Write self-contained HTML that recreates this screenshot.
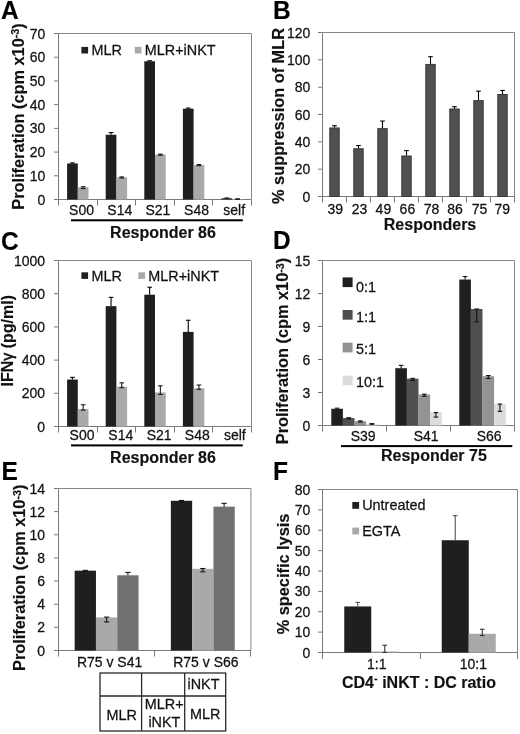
<!DOCTYPE html><html><head><meta charset="utf-8"><style>html,body{margin:0;padding:0;background:#fff;overflow:hidden;}svg{display:block;will-change:transform;}text{font-family:"Liberation Sans",sans-serif;stroke:#111;stroke-width:0.25px;}text[font-weight=bold]{stroke-width:0.15px;}</style></head><body>
<svg width="520" height="734" viewBox="0 0 520 734">
<rect width="520" height="734" fill="#fff"/>
<text transform="translate(1.00,18.70) scale(1,1.06)" font-size="24.5" text-anchor="start" font-weight="bold" fill="#000">A</text>
<line x1="58.50" y1="33.50" x2="251.50" y2="33.50" stroke="#858585" stroke-width="1"/>
<line x1="251.50" y1="33.50" x2="251.50" y2="199.50" stroke="#858585" stroke-width="1"/>
<line x1="58.50" y1="33.50" x2="58.50" y2="205.50" stroke="#7a7a7a" stroke-width="1"/>
<line x1="54.00" y1="199.50" x2="58.50" y2="199.50" stroke="#7a7a7a" stroke-width="1"/>
<text transform="translate(45.30,204.50) scale(1,1.07)" font-size="14" text-anchor="end" fill="#111111">0</text>
<line x1="54.00" y1="175.79" x2="58.50" y2="175.79" stroke="#7a7a7a" stroke-width="1"/>
<text transform="translate(45.30,180.79) scale(1,1.07)" font-size="14" text-anchor="end" fill="#111111">10</text>
<line x1="54.00" y1="152.07" x2="58.50" y2="152.07" stroke="#7a7a7a" stroke-width="1"/>
<text transform="translate(45.30,157.07) scale(1,1.07)" font-size="14" text-anchor="end" fill="#111111">20</text>
<line x1="54.00" y1="128.36" x2="58.50" y2="128.36" stroke="#7a7a7a" stroke-width="1"/>
<text transform="translate(45.30,133.36) scale(1,1.07)" font-size="14" text-anchor="end" fill="#111111">30</text>
<line x1="54.00" y1="104.64" x2="58.50" y2="104.64" stroke="#7a7a7a" stroke-width="1"/>
<text transform="translate(45.30,109.64) scale(1,1.07)" font-size="14" text-anchor="end" fill="#111111">40</text>
<line x1="54.00" y1="80.93" x2="58.50" y2="80.93" stroke="#7a7a7a" stroke-width="1"/>
<text transform="translate(45.30,85.93) scale(1,1.07)" font-size="14" text-anchor="end" fill="#111111">50</text>
<line x1="54.00" y1="57.21" x2="58.50" y2="57.21" stroke="#7a7a7a" stroke-width="1"/>
<text transform="translate(45.30,62.21) scale(1,1.07)" font-size="14" text-anchor="end" fill="#111111">60</text>
<line x1="54.00" y1="33.50" x2="58.50" y2="33.50" stroke="#7a7a7a" stroke-width="1"/>
<text transform="translate(45.30,38.50) scale(1,1.07)" font-size="14" text-anchor="end" fill="#111111">70</text>
<line x1="54.00" y1="199.50" x2="251.50" y2="199.50" stroke="#7a7a7a" stroke-width="1"/>
<line x1="97.50" y1="199.50" x2="97.50" y2="205.50" stroke="#7a7a7a" stroke-width="1"/>
<line x1="135.50" y1="199.50" x2="135.50" y2="205.50" stroke="#7a7a7a" stroke-width="1"/>
<line x1="174.50" y1="199.50" x2="174.50" y2="205.50" stroke="#7a7a7a" stroke-width="1"/>
<line x1="212.50" y1="199.50" x2="212.50" y2="205.50" stroke="#7a7a7a" stroke-width="1"/>
<line x1="251.50" y1="199.50" x2="251.50" y2="205.50" stroke="#7a7a7a" stroke-width="1"/>
<rect x="67.10" y="163.45" width="10.70" height="36.05" fill="#1f1f1f"/>
<line x1="72.45" y1="162.85" x2="72.45" y2="163.45" stroke="#000" stroke-width="1.1"/>
<line x1="70.15" y1="162.85" x2="74.75" y2="162.85" stroke="#000" stroke-width="1.1"/>
<rect x="77.80" y="187.17" width="10.70" height="12.33" fill="#a9a9a9"/>
<line x1="83.15" y1="186.77" x2="83.15" y2="188.57" stroke="#1a1a1a" stroke-width="1.1"/>
<line x1="80.85" y1="186.77" x2="85.45" y2="186.77" stroke="#1a1a1a" stroke-width="1.1"/>
<line x1="80.85" y1="188.57" x2="85.45" y2="188.57" stroke="#1a1a1a" stroke-width="1.1"/>
<rect x="105.70" y="134.76" width="10.70" height="64.74" fill="#1f1f1f"/>
<line x1="111.05" y1="132.56" x2="111.05" y2="134.76" stroke="#000" stroke-width="1.1"/>
<line x1="108.75" y1="132.56" x2="113.35" y2="132.56" stroke="#000" stroke-width="1.1"/>
<rect x="116.40" y="177.21" width="10.70" height="22.29" fill="#a9a9a9"/>
<line x1="121.75" y1="176.91" x2="121.75" y2="178.01" stroke="#1a1a1a" stroke-width="1.1"/>
<line x1="119.45" y1="176.91" x2="124.05" y2="176.91" stroke="#1a1a1a" stroke-width="1.1"/>
<line x1="119.45" y1="178.01" x2="124.05" y2="178.01" stroke="#1a1a1a" stroke-width="1.1"/>
<rect x="144.30" y="61.25" width="10.70" height="138.25" fill="#1f1f1f"/>
<line x1="149.65" y1="60.75" x2="149.65" y2="61.25" stroke="#000" stroke-width="1.1"/>
<line x1="147.35" y1="60.75" x2="151.95" y2="60.75" stroke="#000" stroke-width="1.1"/>
<rect x="155.00" y="154.44" width="10.70" height="45.06" fill="#a9a9a9"/>
<line x1="160.35" y1="154.14" x2="160.35" y2="155.24" stroke="#1a1a1a" stroke-width="1.1"/>
<line x1="158.05" y1="154.14" x2="162.65" y2="154.14" stroke="#1a1a1a" stroke-width="1.1"/>
<line x1="158.05" y1="155.24" x2="162.65" y2="155.24" stroke="#1a1a1a" stroke-width="1.1"/>
<rect x="182.90" y="108.67" width="10.70" height="90.83" fill="#1f1f1f"/>
<line x1="188.25" y1="108.07" x2="188.25" y2="108.67" stroke="#000" stroke-width="1.1"/>
<line x1="185.95" y1="108.07" x2="190.55" y2="108.07" stroke="#000" stroke-width="1.1"/>
<rect x="193.60" y="164.88" width="10.70" height="34.62" fill="#a9a9a9"/>
<line x1="198.95" y1="164.58" x2="198.95" y2="165.68" stroke="#1a1a1a" stroke-width="1.1"/>
<line x1="196.65" y1="164.58" x2="201.25" y2="164.58" stroke="#1a1a1a" stroke-width="1.1"/>
<line x1="196.65" y1="165.68" x2="201.25" y2="165.68" stroke="#1a1a1a" stroke-width="1.1"/>
<rect x="221.50" y="198.31" width="10.70" height="1.19" fill="#1f1f1f"/>
<line x1="226.85" y1="198.01" x2="226.85" y2="198.31" stroke="#000" stroke-width="1.1"/>
<line x1="224.55" y1="198.01" x2="229.15" y2="198.01" stroke="#000" stroke-width="1.1"/>
<rect x="232.20" y="199.03" width="10.70" height="0.47" fill="#a9a9a9"/>
<line x1="237.55" y1="198.83" x2="237.55" y2="199.33" stroke="#1a1a1a" stroke-width="1.1"/>
<line x1="235.25" y1="198.83" x2="239.85" y2="198.83" stroke="#1a1a1a" stroke-width="1.1"/>
<line x1="235.25" y1="199.33" x2="239.85" y2="199.33" stroke="#1a1a1a" stroke-width="1.1"/>
<text transform="translate(81.50,214.60) scale(1,1.07)" font-size="14" text-anchor="middle" fill="#111111">S00</text>
<text transform="translate(119.80,214.60) scale(1,1.07)" font-size="14" text-anchor="middle" fill="#111111">S14</text>
<text transform="translate(157.90,214.60) scale(1,1.07)" font-size="14" text-anchor="middle" fill="#111111">S21</text>
<text transform="translate(196.50,214.60) scale(1,1.07)" font-size="14" text-anchor="middle" fill="#111111">S48</text>
<text transform="translate(234.20,214.60) scale(1,1.07)" font-size="14" text-anchor="middle" fill="#111111">self</text>
<rect x="71.00" y="219.30" width="171.80" height="2.00" fill="#000"/>
<text x="163.00" y="238.30" font-size="16" text-anchor="middle" font-weight="bold" fill="#111111">Responder 86</text>
<rect x="81.40" y="46.90" width="6.70" height="6.60" fill="#1f1f1f"/>
<text transform="translate(91.40,55.30) scale(1,1.04)" font-size="14.4" text-anchor="start" fill="#111111">MLR</text>
<rect x="134.80" y="46.90" width="6.70" height="6.60" fill="#a9a9a9"/>
<text transform="translate(144.80,55.30) scale(1,1.04)" font-size="14.4" text-anchor="start" fill="#111111">MLR+iNKT</text>
<text x="0" y="0" font-size="16" font-weight="bold" text-anchor="middle" fill="#111111" transform="translate(23.61,116.50) rotate(-90) scale(1.02,1)">Proliferation (cpm x10<tspan font-size="10.5" dy="-4.3">-3</tspan><tspan dy="4.3">)</tspan></text>
<text transform="translate(273.00,18.70) scale(1,1.06)" font-size="24.5" text-anchor="start" font-weight="bold" fill="#000">B</text>
<line x1="322.50" y1="32.50" x2="514.50" y2="32.50" stroke="#858585" stroke-width="1"/>
<line x1="514.50" y1="32.50" x2="514.50" y2="196.50" stroke="#858585" stroke-width="1"/>
<line x1="322.50" y1="32.50" x2="322.50" y2="202.50" stroke="#7a7a7a" stroke-width="1"/>
<line x1="318.00" y1="196.50" x2="322.50" y2="196.50" stroke="#7a7a7a" stroke-width="1"/>
<text transform="translate(310.40,201.50) scale(1,1.07)" font-size="14" text-anchor="end" fill="#111111">0</text>
<line x1="318.00" y1="169.17" x2="322.50" y2="169.17" stroke="#7a7a7a" stroke-width="1"/>
<text transform="translate(310.40,174.17) scale(1,1.07)" font-size="14" text-anchor="end" fill="#111111">20</text>
<line x1="318.00" y1="141.83" x2="322.50" y2="141.83" stroke="#7a7a7a" stroke-width="1"/>
<text transform="translate(310.40,146.83) scale(1,1.07)" font-size="14" text-anchor="end" fill="#111111">40</text>
<line x1="318.00" y1="114.50" x2="322.50" y2="114.50" stroke="#7a7a7a" stroke-width="1"/>
<text transform="translate(310.40,119.50) scale(1,1.07)" font-size="14" text-anchor="end" fill="#111111">60</text>
<line x1="318.00" y1="87.17" x2="322.50" y2="87.17" stroke="#7a7a7a" stroke-width="1"/>
<text transform="translate(310.40,92.17) scale(1,1.07)" font-size="14" text-anchor="end" fill="#111111">80</text>
<line x1="318.00" y1="59.83" x2="322.50" y2="59.83" stroke="#7a7a7a" stroke-width="1"/>
<text transform="translate(310.40,64.83) scale(1,1.07)" font-size="14" text-anchor="end" fill="#111111">100</text>
<line x1="318.00" y1="32.50" x2="322.50" y2="32.50" stroke="#7a7a7a" stroke-width="1"/>
<text transform="translate(310.40,37.50) scale(1,1.07)" font-size="14" text-anchor="end" fill="#111111">120</text>
<line x1="318.00" y1="196.50" x2="514.50" y2="196.50" stroke="#7a7a7a" stroke-width="1"/>
<line x1="346.50" y1="196.50" x2="346.50" y2="202.50" stroke="#7a7a7a" stroke-width="1"/>
<line x1="370.50" y1="196.50" x2="370.50" y2="202.50" stroke="#7a7a7a" stroke-width="1"/>
<line x1="394.50" y1="196.50" x2="394.50" y2="202.50" stroke="#7a7a7a" stroke-width="1"/>
<line x1="418.50" y1="196.50" x2="418.50" y2="202.50" stroke="#7a7a7a" stroke-width="1"/>
<line x1="442.50" y1="196.50" x2="442.50" y2="202.50" stroke="#7a7a7a" stroke-width="1"/>
<line x1="466.50" y1="196.50" x2="466.50" y2="202.50" stroke="#7a7a7a" stroke-width="1"/>
<line x1="490.50" y1="196.50" x2="490.50" y2="202.50" stroke="#7a7a7a" stroke-width="1"/>
<line x1="514.50" y1="196.50" x2="514.50" y2="202.50" stroke="#7a7a7a" stroke-width="1"/>
<rect x="329.80" y="127.98" width="9.40" height="68.52" fill="#505050" stroke="#383838" stroke-width="1"/>
<line x1="334.50" y1="125.71" x2="334.50" y2="127.48" stroke="#000" stroke-width="1.1"/>
<line x1="332.20" y1="125.71" x2="336.80" y2="125.71" stroke="#000" stroke-width="1.1"/>
<rect x="353.80" y="148.76" width="9.40" height="47.74" fill="#505050" stroke="#383838" stroke-width="1"/>
<line x1="358.50" y1="145.52" x2="358.50" y2="148.26" stroke="#000" stroke-width="1.1"/>
<line x1="356.20" y1="145.52" x2="360.80" y2="145.52" stroke="#000" stroke-width="1.1"/>
<rect x="377.80" y="128.67" width="9.40" height="67.83" fill="#505050" stroke="#383838" stroke-width="1"/>
<line x1="382.50" y1="121.06" x2="382.50" y2="128.17" stroke="#000" stroke-width="1.1"/>
<line x1="380.20" y1="121.06" x2="384.80" y2="121.06" stroke="#000" stroke-width="1.1"/>
<rect x="401.80" y="156.00" width="9.40" height="40.50" fill="#505050" stroke="#383838" stroke-width="1"/>
<line x1="406.50" y1="150.58" x2="406.50" y2="155.50" stroke="#000" stroke-width="1.1"/>
<line x1="404.20" y1="150.58" x2="408.80" y2="150.58" stroke="#000" stroke-width="1.1"/>
<rect x="425.80" y="64.43" width="9.40" height="132.07" fill="#505050" stroke="#383838" stroke-width="1"/>
<line x1="430.50" y1="56.69" x2="430.50" y2="63.93" stroke="#000" stroke-width="1.1"/>
<line x1="428.20" y1="56.69" x2="432.80" y2="56.69" stroke="#000" stroke-width="1.1"/>
<rect x="449.80" y="108.99" width="9.40" height="87.51" fill="#505050" stroke="#383838" stroke-width="1"/>
<line x1="454.50" y1="106.71" x2="454.50" y2="108.49" stroke="#000" stroke-width="1.1"/>
<line x1="452.20" y1="106.71" x2="456.80" y2="106.71" stroke="#000" stroke-width="1.1"/>
<rect x="473.80" y="100.65" width="9.40" height="95.85" fill="#505050" stroke="#383838" stroke-width="1"/>
<line x1="478.50" y1="91.13" x2="478.50" y2="100.15" stroke="#000" stroke-width="1.1"/>
<line x1="476.20" y1="91.13" x2="480.80" y2="91.13" stroke="#000" stroke-width="1.1"/>
<rect x="497.80" y="94.50" width="9.40" height="102.00" fill="#505050" stroke="#383838" stroke-width="1"/>
<line x1="502.50" y1="90.45" x2="502.50" y2="94.00" stroke="#000" stroke-width="1.1"/>
<line x1="500.20" y1="90.45" x2="504.80" y2="90.45" stroke="#000" stroke-width="1.1"/>
<text transform="translate(335.30,213.80) scale(1,1.07)" font-size="14" text-anchor="middle" fill="#111111">39</text>
<text transform="translate(359.50,213.80) scale(1,1.07)" font-size="14" text-anchor="middle" fill="#111111">23</text>
<text transform="translate(383.40,213.80) scale(1,1.07)" font-size="14" text-anchor="middle" fill="#111111">49</text>
<text transform="translate(407.40,213.80) scale(1,1.07)" font-size="14" text-anchor="middle" fill="#111111">66</text>
<text transform="translate(431.50,213.80) scale(1,1.07)" font-size="14" text-anchor="middle" fill="#111111">78</text>
<text transform="translate(455.10,213.80) scale(1,1.07)" font-size="14" text-anchor="middle" fill="#111111">86</text>
<text transform="translate(479.50,213.80) scale(1,1.07)" font-size="14" text-anchor="middle" fill="#111111">75</text>
<text transform="translate(502.30,213.80) scale(1,1.07)" font-size="14" text-anchor="middle" fill="#111111">79</text>
<text x="383.80" y="229.60" font-size="16" text-anchor="start" font-weight="bold" fill="#111111">Responders</text>
<text x="0" y="0" font-size="16" font-weight="bold" text-anchor="middle" fill="#111111" transform="translate(284.01,116.00) rotate(-90) scale(1.02,1)">% suppression of MLR</text>
<text transform="translate(1.00,250.00) scale(1,1.06)" font-size="24.5" text-anchor="start" font-weight="bold" fill="#000">C</text>
<line x1="58.50" y1="260.50" x2="251.50" y2="260.50" stroke="#858585" stroke-width="1"/>
<line x1="251.50" y1="260.50" x2="251.50" y2="426.50" stroke="#858585" stroke-width="1"/>
<line x1="58.50" y1="260.50" x2="58.50" y2="432.50" stroke="#7a7a7a" stroke-width="1"/>
<line x1="54.00" y1="426.50" x2="58.50" y2="426.50" stroke="#7a7a7a" stroke-width="1"/>
<text transform="translate(45.10,431.50) scale(1,1.07)" font-size="14" text-anchor="end" fill="#111111">0</text>
<line x1="54.00" y1="393.30" x2="58.50" y2="393.30" stroke="#7a7a7a" stroke-width="1"/>
<text transform="translate(45.10,398.30) scale(1,1.07)" font-size="14" text-anchor="end" fill="#111111">200</text>
<line x1="54.00" y1="360.10" x2="58.50" y2="360.10" stroke="#7a7a7a" stroke-width="1"/>
<text transform="translate(45.10,365.10) scale(1,1.07)" font-size="14" text-anchor="end" fill="#111111">400</text>
<line x1="54.00" y1="326.90" x2="58.50" y2="326.90" stroke="#7a7a7a" stroke-width="1"/>
<text transform="translate(45.10,331.90) scale(1,1.07)" font-size="14" text-anchor="end" fill="#111111">600</text>
<line x1="54.00" y1="293.70" x2="58.50" y2="293.70" stroke="#7a7a7a" stroke-width="1"/>
<text transform="translate(45.10,298.70) scale(1,1.07)" font-size="14" text-anchor="end" fill="#111111">800</text>
<line x1="54.00" y1="260.50" x2="58.50" y2="260.50" stroke="#7a7a7a" stroke-width="1"/>
<text transform="translate(45.10,265.50) scale(1,1.07)" font-size="14" text-anchor="end" fill="#111111">1000</text>
<line x1="54.00" y1="426.50" x2="251.50" y2="426.50" stroke="#7a7a7a" stroke-width="1"/>
<line x1="97.50" y1="426.50" x2="97.50" y2="432.50" stroke="#7a7a7a" stroke-width="1"/>
<line x1="135.50" y1="426.50" x2="135.50" y2="432.50" stroke="#7a7a7a" stroke-width="1"/>
<line x1="174.50" y1="426.50" x2="174.50" y2="432.50" stroke="#7a7a7a" stroke-width="1"/>
<line x1="212.50" y1="426.50" x2="212.50" y2="432.50" stroke="#7a7a7a" stroke-width="1"/>
<line x1="251.50" y1="426.50" x2="251.50" y2="432.50" stroke="#7a7a7a" stroke-width="1"/>
<rect x="67.10" y="379.52" width="10.70" height="46.98" fill="#1f1f1f"/>
<line x1="72.45" y1="377.36" x2="72.45" y2="379.52" stroke="#000" stroke-width="1.1"/>
<line x1="70.15" y1="377.36" x2="74.75" y2="377.36" stroke="#000" stroke-width="1.1"/>
<rect x="77.80" y="409.07" width="10.70" height="17.43" fill="#a9a9a9"/>
<line x1="83.15" y1="404.75" x2="83.15" y2="410.07" stroke="#1a1a1a" stroke-width="1.1"/>
<line x1="80.85" y1="404.75" x2="85.45" y2="404.75" stroke="#1a1a1a" stroke-width="1.1"/>
<line x1="80.85" y1="410.07" x2="85.45" y2="410.07" stroke="#1a1a1a" stroke-width="1.1"/>
<rect x="105.70" y="306.15" width="10.70" height="120.35" fill="#1f1f1f"/>
<line x1="111.05" y1="297.35" x2="111.05" y2="306.15" stroke="#000" stroke-width="1.1"/>
<line x1="108.75" y1="297.35" x2="113.35" y2="297.35" stroke="#000" stroke-width="1.1"/>
<rect x="116.40" y="386.66" width="10.70" height="39.84" fill="#a9a9a9"/>
<line x1="121.75" y1="382.84" x2="121.75" y2="387.66" stroke="#1a1a1a" stroke-width="1.1"/>
<line x1="119.45" y1="382.84" x2="124.05" y2="382.84" stroke="#1a1a1a" stroke-width="1.1"/>
<line x1="119.45" y1="387.66" x2="124.05" y2="387.66" stroke="#1a1a1a" stroke-width="1.1"/>
<rect x="144.30" y="294.70" width="10.70" height="131.80" fill="#1f1f1f"/>
<line x1="149.65" y1="287.23" x2="149.65" y2="294.70" stroke="#000" stroke-width="1.1"/>
<line x1="147.35" y1="287.23" x2="151.95" y2="287.23" stroke="#000" stroke-width="1.1"/>
<rect x="155.00" y="392.47" width="10.70" height="34.03" fill="#a9a9a9"/>
<line x1="160.35" y1="385.83" x2="160.35" y2="394.47" stroke="#1a1a1a" stroke-width="1.1"/>
<line x1="158.05" y1="385.83" x2="162.65" y2="385.83" stroke="#1a1a1a" stroke-width="1.1"/>
<line x1="158.05" y1="394.47" x2="162.65" y2="394.47" stroke="#1a1a1a" stroke-width="1.1"/>
<rect x="182.90" y="331.88" width="10.70" height="94.62" fill="#1f1f1f"/>
<line x1="188.25" y1="320.26" x2="188.25" y2="331.88" stroke="#000" stroke-width="1.1"/>
<line x1="185.95" y1="320.26" x2="190.55" y2="320.26" stroke="#000" stroke-width="1.1"/>
<rect x="193.60" y="388.32" width="10.70" height="38.18" fill="#a9a9a9"/>
<line x1="198.95" y1="385.00" x2="198.95" y2="389.32" stroke="#1a1a1a" stroke-width="1.1"/>
<line x1="196.65" y1="385.00" x2="201.25" y2="385.00" stroke="#1a1a1a" stroke-width="1.1"/>
<line x1="196.65" y1="389.32" x2="201.25" y2="389.32" stroke="#1a1a1a" stroke-width="1.1"/>
<text transform="translate(82.00,440.40) scale(1,1.07)" font-size="14" text-anchor="middle" fill="#111111">S00</text>
<text transform="translate(120.80,440.40) scale(1,1.07)" font-size="14" text-anchor="middle" fill="#111111">S14</text>
<text transform="translate(159.20,440.40) scale(1,1.07)" font-size="14" text-anchor="middle" fill="#111111">S21</text>
<text transform="translate(197.30,440.40) scale(1,1.07)" font-size="14" text-anchor="middle" fill="#111111">S48</text>
<text transform="translate(234.80,440.40) scale(1,1.07)" font-size="14" text-anchor="middle" fill="#111111">self</text>
<rect x="71.00" y="444.40" width="171.80" height="2.00" fill="#000"/>
<text x="163.00" y="462.60" font-size="16" text-anchor="middle" font-weight="bold" fill="#111111">Responder 86</text>
<rect x="81.40" y="272.30" width="6.70" height="6.60" fill="#1f1f1f"/>
<text transform="translate(91.40,280.70) scale(1,1.04)" font-size="14.4" text-anchor="start" fill="#111111">MLR</text>
<rect x="138.30" y="272.30" width="6.70" height="6.60" fill="#a9a9a9"/>
<text transform="translate(148.30,280.70) scale(1,1.04)" font-size="14.4" text-anchor="start" fill="#111111">MLR+iNKT</text>
<text x="0" y="0" font-size="16" font-weight="bold" text-anchor="middle" fill="#111111" transform="translate(12.81,340.80) rotate(-90) scale(1.0,1)">IFN<tspan font-weight="normal" style="stroke-width:0.5px">γ</tspan> (pg/ml)</text>
<text transform="translate(273.00,249.20) scale(1,1.06)" font-size="24.5" text-anchor="start" font-weight="bold" fill="#000">D</text>
<line x1="322.50" y1="260.50" x2="514.50" y2="260.50" stroke="#858585" stroke-width="1"/>
<line x1="514.50" y1="260.50" x2="514.50" y2="425.50" stroke="#858585" stroke-width="1"/>
<line x1="322.50" y1="260.50" x2="322.50" y2="431.50" stroke="#7a7a7a" stroke-width="1"/>
<line x1="318.00" y1="425.50" x2="322.50" y2="425.50" stroke="#7a7a7a" stroke-width="1"/>
<text transform="translate(310.40,430.50) scale(1,1.07)" font-size="14" text-anchor="end" fill="#111111">0</text>
<line x1="318.00" y1="392.50" x2="322.50" y2="392.50" stroke="#7a7a7a" stroke-width="1"/>
<text transform="translate(310.40,397.50) scale(1,1.07)" font-size="14" text-anchor="end" fill="#111111">3</text>
<line x1="318.00" y1="359.50" x2="322.50" y2="359.50" stroke="#7a7a7a" stroke-width="1"/>
<text transform="translate(310.40,364.50) scale(1,1.07)" font-size="14" text-anchor="end" fill="#111111">6</text>
<line x1="318.00" y1="326.50" x2="322.50" y2="326.50" stroke="#7a7a7a" stroke-width="1"/>
<text transform="translate(310.40,331.50) scale(1,1.07)" font-size="14" text-anchor="end" fill="#111111">9</text>
<line x1="318.00" y1="293.50" x2="322.50" y2="293.50" stroke="#7a7a7a" stroke-width="1"/>
<text transform="translate(310.40,298.50) scale(1,1.07)" font-size="14" text-anchor="end" fill="#111111">12</text>
<line x1="318.00" y1="260.50" x2="322.50" y2="260.50" stroke="#7a7a7a" stroke-width="1"/>
<text transform="translate(310.40,265.50) scale(1,1.07)" font-size="14" text-anchor="end" fill="#111111">15</text>
<line x1="318.00" y1="425.50" x2="514.50" y2="425.50" stroke="#7a7a7a" stroke-width="1"/>
<line x1="386.50" y1="425.50" x2="386.50" y2="431.50" stroke="#7a7a7a" stroke-width="1"/>
<line x1="450.50" y1="425.50" x2="450.50" y2="431.50" stroke="#7a7a7a" stroke-width="1"/>
<line x1="514.50" y1="425.50" x2="514.50" y2="431.50" stroke="#7a7a7a" stroke-width="1"/>
<rect x="331.30" y="408.78" width="11.60" height="16.72" fill="#1f1f1f"/>
<line x1="337.10" y1="408.18" x2="337.10" y2="408.78" stroke="#111" stroke-width="1.1"/>
<line x1="334.80" y1="408.18" x2="339.40" y2="408.18" stroke="#111" stroke-width="1.1"/>
<rect x="342.90" y="418.02" width="11.60" height="7.48" fill="#505050"/>
<line x1="348.70" y1="417.72" x2="348.70" y2="418.82" stroke="#111" stroke-width="1.1"/>
<line x1="346.40" y1="417.72" x2="351.00" y2="417.72" stroke="#111" stroke-width="1.1"/>
<line x1="346.40" y1="418.82" x2="351.00" y2="418.82" stroke="#111" stroke-width="1.1"/>
<rect x="354.50" y="421.21" width="11.60" height="4.29" fill="#939393"/>
<line x1="360.30" y1="420.91" x2="360.30" y2="422.01" stroke="#111" stroke-width="1.1"/>
<line x1="358.00" y1="420.91" x2="362.60" y2="420.91" stroke="#111" stroke-width="1.1"/>
<line x1="358.00" y1="422.01" x2="362.60" y2="422.01" stroke="#111" stroke-width="1.1"/>
<rect x="366.10" y="423.74" width="11.60" height="1.76" fill="#dcdcdc"/>
<line x1="371.90" y1="423.64" x2="371.90" y2="424.24" stroke="#111" stroke-width="1.1"/>
<line x1="369.60" y1="423.64" x2="374.20" y2="423.64" stroke="#111" stroke-width="1.1"/>
<line x1="369.60" y1="424.24" x2="374.20" y2="424.24" stroke="#111" stroke-width="1.1"/>
<rect x="395.30" y="368.19" width="11.60" height="57.31" fill="#1f1f1f"/>
<line x1="401.10" y1="365.39" x2="401.10" y2="368.19" stroke="#111" stroke-width="1.1"/>
<line x1="398.80" y1="365.39" x2="403.40" y2="365.39" stroke="#111" stroke-width="1.1"/>
<rect x="406.90" y="378.64" width="11.60" height="46.86" fill="#505050"/>
<line x1="412.70" y1="378.34" x2="412.70" y2="380.44" stroke="#111" stroke-width="1.1"/>
<line x1="410.40" y1="378.34" x2="415.00" y2="378.34" stroke="#111" stroke-width="1.1"/>
<line x1="410.40" y1="380.44" x2="415.00" y2="380.44" stroke="#111" stroke-width="1.1"/>
<rect x="418.50" y="394.48" width="11.60" height="31.02" fill="#939393"/>
<line x1="424.30" y1="394.18" x2="424.30" y2="396.28" stroke="#111" stroke-width="1.1"/>
<line x1="422.00" y1="394.18" x2="426.60" y2="394.18" stroke="#111" stroke-width="1.1"/>
<line x1="422.00" y1="396.28" x2="426.60" y2="396.28" stroke="#111" stroke-width="1.1"/>
<rect x="430.10" y="412.30" width="11.60" height="13.20" fill="#dcdcdc"/>
<line x1="435.90" y1="412.60" x2="435.90" y2="417.10" stroke="#111" stroke-width="1.1"/>
<line x1="433.60" y1="412.60" x2="438.20" y2="412.60" stroke="#111" stroke-width="1.1"/>
<line x1="433.60" y1="417.10" x2="438.20" y2="417.10" stroke="#111" stroke-width="1.1"/>
<rect x="459.30" y="279.53" width="11.60" height="145.97" fill="#1f1f1f"/>
<line x1="465.10" y1="276.53" x2="465.10" y2="279.53" stroke="#111" stroke-width="1.1"/>
<line x1="462.80" y1="276.53" x2="467.40" y2="276.53" stroke="#111" stroke-width="1.1"/>
<rect x="470.90" y="309.01" width="11.60" height="116.49" fill="#505050"/>
<line x1="476.70" y1="309.00" x2="476.70" y2="321.81" stroke="#111" stroke-width="1.1"/>
<line x1="474.40" y1="309.00" x2="479.00" y2="309.00" stroke="#111" stroke-width="1.1"/>
<line x1="474.40" y1="321.81" x2="479.00" y2="321.81" stroke="#111" stroke-width="1.1"/>
<rect x="482.50" y="376.22" width="11.60" height="49.28" fill="#939393"/>
<line x1="488.30" y1="375.52" x2="488.30" y2="378.42" stroke="#111" stroke-width="1.1"/>
<line x1="486.00" y1="375.52" x2="490.60" y2="375.52" stroke="#111" stroke-width="1.1"/>
<line x1="486.00" y1="378.42" x2="490.60" y2="378.42" stroke="#111" stroke-width="1.1"/>
<rect x="494.10" y="404.38" width="11.60" height="21.12" fill="#dcdcdc"/>
<line x1="499.90" y1="404.08" x2="499.90" y2="411.38" stroke="#111" stroke-width="1.1"/>
<line x1="497.60" y1="404.08" x2="502.20" y2="404.08" stroke="#111" stroke-width="1.1"/>
<line x1="497.60" y1="411.38" x2="502.20" y2="411.38" stroke="#111" stroke-width="1.1"/>
<text transform="translate(363.20,441.00) scale(1,1.07)" font-size="14" text-anchor="middle" fill="#111111">S39</text>
<text transform="translate(426.10,441.00) scale(1,1.07)" font-size="14" text-anchor="middle" fill="#111111">S41</text>
<text transform="translate(489.10,441.00) scale(1,1.07)" font-size="14" text-anchor="middle" fill="#111111">S66</text>
<rect x="341.00" y="445.10" width="171.30" height="2.00" fill="#000"/>
<text x="381.00" y="461.30" font-size="16" text-anchor="start" font-weight="bold" fill="#111111">Responder 75</text>
<rect x="342.60" y="277.40" width="10.00" height="9.70" fill="#1f1f1f"/>
<text transform="translate(355.90,292.20) scale(1,1.06)" font-size="14.4" text-anchor="start" fill="#111111">0:1</text>
<rect x="342.60" y="310.00" width="10.00" height="9.70" fill="#505050"/>
<text transform="translate(355.90,322.20) scale(1,1.06)" font-size="14.4" text-anchor="start" fill="#111111">1:1</text>
<rect x="342.60" y="342.70" width="10.00" height="9.70" fill="#939393"/>
<text transform="translate(355.90,354.30) scale(1,1.06)" font-size="14.4" text-anchor="start" fill="#111111">5:1</text>
<rect x="342.60" y="375.60" width="10.00" height="9.70" fill="#dcdcdc"/>
<text transform="translate(355.90,386.60) scale(1,1.06)" font-size="14.4" text-anchor="start" fill="#111111">10:1</text>
<text x="0" y="0" font-size="16" font-weight="bold" text-anchor="middle" fill="#111111" transform="translate(287.91,351.00) rotate(-90) scale(1.02,1)">Proliferation (cpm x10<tspan font-size="10.5" dy="-4.3">-3</tspan><tspan dy="4.3">)</tspan></text>
<text transform="translate(1.50,479.60) scale(1,1.06)" font-size="24.5" text-anchor="start" font-weight="bold" fill="#000">E</text>
<line x1="58.50" y1="488.50" x2="250.90" y2="488.50" stroke="#858585" stroke-width="1"/>
<line x1="250.90" y1="488.50" x2="250.90" y2="650.50" stroke="#858585" stroke-width="1"/>
<line x1="58.50" y1="488.50" x2="58.50" y2="656.50" stroke="#7a7a7a" stroke-width="1"/>
<line x1="54.00" y1="650.50" x2="58.50" y2="650.50" stroke="#7a7a7a" stroke-width="1"/>
<text transform="translate(45.10,655.50) scale(1,1.07)" font-size="14" text-anchor="end" fill="#111111">0</text>
<line x1="54.00" y1="627.36" x2="58.50" y2="627.36" stroke="#7a7a7a" stroke-width="1"/>
<text transform="translate(45.10,632.36) scale(1,1.07)" font-size="14" text-anchor="end" fill="#111111">2</text>
<line x1="54.00" y1="604.21" x2="58.50" y2="604.21" stroke="#7a7a7a" stroke-width="1"/>
<text transform="translate(45.10,609.21) scale(1,1.07)" font-size="14" text-anchor="end" fill="#111111">4</text>
<line x1="54.00" y1="581.07" x2="58.50" y2="581.07" stroke="#7a7a7a" stroke-width="1"/>
<text transform="translate(45.10,586.07) scale(1,1.07)" font-size="14" text-anchor="end" fill="#111111">6</text>
<line x1="54.00" y1="557.93" x2="58.50" y2="557.93" stroke="#7a7a7a" stroke-width="1"/>
<text transform="translate(45.10,562.93) scale(1,1.07)" font-size="14" text-anchor="end" fill="#111111">8</text>
<line x1="54.00" y1="534.79" x2="58.50" y2="534.79" stroke="#7a7a7a" stroke-width="1"/>
<text transform="translate(45.10,539.79) scale(1,1.07)" font-size="14" text-anchor="end" fill="#111111">10</text>
<line x1="54.00" y1="511.64" x2="58.50" y2="511.64" stroke="#7a7a7a" stroke-width="1"/>
<text transform="translate(45.10,516.64) scale(1,1.07)" font-size="14" text-anchor="end" fill="#111111">12</text>
<line x1="54.00" y1="488.50" x2="58.50" y2="488.50" stroke="#7a7a7a" stroke-width="1"/>
<text transform="translate(45.10,493.50) scale(1,1.07)" font-size="14" text-anchor="end" fill="#111111">14</text>
<line x1="54.00" y1="650.50" x2="250.90" y2="650.50" stroke="#7a7a7a" stroke-width="1"/>
<line x1="154.50" y1="650.50" x2="154.50" y2="656.50" stroke="#7a7a7a" stroke-width="1"/>
<line x1="250.50" y1="650.50" x2="250.50" y2="656.50" stroke="#7a7a7a" stroke-width="1"/>
<rect x="74.65" y="570.66" width="21.30" height="79.84" fill="#1f1f1f"/>
<line x1="85.30" y1="570.36" x2="85.30" y2="571.46" stroke="#151515" stroke-width="1.1"/>
<line x1="82.70" y1="570.36" x2="87.90" y2="570.36" stroke="#151515" stroke-width="1.1"/>
<line x1="82.70" y1="571.46" x2="87.90" y2="571.46" stroke="#151515" stroke-width="1.1"/>
<rect x="95.95" y="617.41" width="21.30" height="33.09" fill="#a9a9a9"/>
<line x1="106.60" y1="617.11" x2="106.60" y2="621.91" stroke="#151515" stroke-width="1.1"/>
<line x1="104.00" y1="617.11" x2="109.20" y2="617.11" stroke="#151515" stroke-width="1.1"/>
<line x1="104.00" y1="621.91" x2="109.20" y2="621.91" stroke="#151515" stroke-width="1.1"/>
<rect x="117.25" y="575.29" width="21.30" height="75.21" fill="#717171"/>
<line x1="127.90" y1="572.39" x2="127.90" y2="575.29" stroke="#151515" stroke-width="1.1"/>
<line x1="125.30" y1="572.39" x2="130.50" y2="572.39" stroke="#151515" stroke-width="1.1"/>
<rect x="170.85" y="500.77" width="21.30" height="149.73" fill="#1f1f1f"/>
<line x1="181.50" y1="500.47" x2="181.50" y2="502.27" stroke="#151515" stroke-width="1.1"/>
<line x1="178.90" y1="500.47" x2="184.10" y2="500.47" stroke="#151515" stroke-width="1.1"/>
<line x1="178.90" y1="502.27" x2="184.10" y2="502.27" stroke="#151515" stroke-width="1.1"/>
<rect x="192.15" y="568.81" width="21.30" height="81.69" fill="#a9a9a9"/>
<line x1="202.80" y1="568.51" x2="202.80" y2="571.81" stroke="#151515" stroke-width="1.1"/>
<line x1="200.20" y1="568.51" x2="205.40" y2="568.51" stroke="#151515" stroke-width="1.1"/>
<line x1="200.20" y1="571.81" x2="205.40" y2="571.81" stroke="#151515" stroke-width="1.1"/>
<rect x="213.45" y="506.67" width="21.30" height="143.83" fill="#717171"/>
<line x1="224.10" y1="503.37" x2="224.10" y2="506.67" stroke="#151515" stroke-width="1.1"/>
<line x1="221.50" y1="503.37" x2="226.70" y2="503.37" stroke="#151515" stroke-width="1.1"/>
<text transform="translate(109.60,667.40) scale(1,1.04)" font-size="14" text-anchor="middle" fill="#111111">R75 v S41</text>
<text transform="translate(205.90,667.40) scale(1,1.04)" font-size="14" text-anchor="middle" fill="#111111">R75 v S66</text>
<g stroke="#2a2a2a" stroke-width="1.3" fill="none">
<rect x="100" y="673" width="125.7" height="58"/>
<line x1="100" y1="696" x2="225.7" y2="696"/>
<line x1="141.6" y1="673" x2="141.6" y2="731"/>
<line x1="184.7" y1="673" x2="184.7" y2="731"/>
</g>
<text transform="translate(203.50,688.60) scale(1,1.04)" font-size="14.4" text-anchor="middle" fill="#111111">iNKT</text>
<text transform="translate(121.60,719.60) scale(1,1.04)" font-size="14.4" text-anchor="middle" fill="#111111">MLR</text>
<text transform="translate(164.20,709.40) scale(1,1.04)" font-size="14.4" text-anchor="middle" fill="#111111">MLR+</text>
<text transform="translate(164.40,726.60) scale(1,1.04)" font-size="14.4" text-anchor="middle" fill="#111111">iNKT</text>
<text transform="translate(205.10,718.90) scale(1,1.04)" font-size="14.4" text-anchor="middle" fill="#111111">MLR</text>
<text x="0" y="0" font-size="16" font-weight="bold" text-anchor="middle" fill="#111111" transform="translate(25.11,577.80) rotate(-90) scale(1.02,1)">Proliferation (cpm x10<tspan font-size="10.5" dy="-4.3">-3</tspan><tspan dy="4.3">)</tspan></text>
<text transform="translate(273.00,480.00) scale(1,1.06)" font-size="24.5" text-anchor="start" font-weight="bold" fill="#000">F</text>
<line x1="322.50" y1="489.50" x2="517.50" y2="489.50" stroke="#858585" stroke-width="1"/>
<line x1="517.50" y1="489.50" x2="517.50" y2="652.50" stroke="#858585" stroke-width="1"/>
<line x1="322.50" y1="489.50" x2="322.50" y2="659.00" stroke="#7a7a7a" stroke-width="1"/>
<line x1="318.00" y1="652.50" x2="322.50" y2="652.50" stroke="#7a7a7a" stroke-width="1"/>
<text transform="translate(310.40,657.50) scale(1,1.07)" font-size="14" text-anchor="end" fill="#111111">0</text>
<line x1="318.00" y1="632.12" x2="322.50" y2="632.12" stroke="#7a7a7a" stroke-width="1"/>
<text transform="translate(310.40,637.12) scale(1,1.07)" font-size="14" text-anchor="end" fill="#111111">10</text>
<line x1="318.00" y1="611.75" x2="322.50" y2="611.75" stroke="#7a7a7a" stroke-width="1"/>
<text transform="translate(310.40,616.75) scale(1,1.07)" font-size="14" text-anchor="end" fill="#111111">20</text>
<line x1="318.00" y1="591.38" x2="322.50" y2="591.38" stroke="#7a7a7a" stroke-width="1"/>
<text transform="translate(310.40,596.38) scale(1,1.07)" font-size="14" text-anchor="end" fill="#111111">30</text>
<line x1="318.00" y1="571.00" x2="322.50" y2="571.00" stroke="#7a7a7a" stroke-width="1"/>
<text transform="translate(310.40,576.00) scale(1,1.07)" font-size="14" text-anchor="end" fill="#111111">40</text>
<line x1="318.00" y1="550.62" x2="322.50" y2="550.62" stroke="#7a7a7a" stroke-width="1"/>
<text transform="translate(310.40,555.62) scale(1,1.07)" font-size="14" text-anchor="end" fill="#111111">50</text>
<line x1="318.00" y1="530.25" x2="322.50" y2="530.25" stroke="#7a7a7a" stroke-width="1"/>
<text transform="translate(310.40,535.25) scale(1,1.07)" font-size="14" text-anchor="end" fill="#111111">60</text>
<line x1="318.00" y1="509.88" x2="322.50" y2="509.88" stroke="#7a7a7a" stroke-width="1"/>
<text transform="translate(310.40,514.88) scale(1,1.07)" font-size="14" text-anchor="end" fill="#111111">70</text>
<line x1="318.00" y1="489.50" x2="322.50" y2="489.50" stroke="#7a7a7a" stroke-width="1"/>
<text transform="translate(310.40,494.50) scale(1,1.07)" font-size="14" text-anchor="end" fill="#111111">80</text>
<line x1="318.00" y1="652.50" x2="517.50" y2="652.50" stroke="#7a7a7a" stroke-width="1"/>
<line x1="420.50" y1="652.50" x2="420.50" y2="659.00" stroke="#7a7a7a" stroke-width="1"/>
<line x1="517.50" y1="652.50" x2="517.50" y2="659.00" stroke="#7a7a7a" stroke-width="1"/>
<rect x="344.25" y="606.45" width="27.00" height="46.05" fill="#1f1f1f"/>
<line x1="357.75" y1="602.45" x2="357.75" y2="606.45" stroke="#555" stroke-width="1.1"/>
<line x1="355.45" y1="602.45" x2="360.05" y2="602.45" stroke="#555" stroke-width="1.1"/>
<rect x="371.25" y="651.48" width="27.00" height="1.02" fill="#a9a9a9"/>
<line x1="384.75" y1="645.28" x2="384.75" y2="652.48" stroke="#333" stroke-width="1.1"/>
<line x1="382.45" y1="645.28" x2="387.05" y2="645.28" stroke="#333" stroke-width="1.1"/>
<line x1="382.45" y1="652.48" x2="387.05" y2="652.48" stroke="#333" stroke-width="1.1"/>
<rect x="441.75" y="540.23" width="27.00" height="112.27" fill="#1f1f1f"/>
<line x1="455.25" y1="515.63" x2="455.25" y2="540.23" stroke="#555" stroke-width="1.1"/>
<line x1="452.95" y1="515.63" x2="457.55" y2="515.63" stroke="#555" stroke-width="1.1"/>
<rect x="468.75" y="633.75" width="27.00" height="18.75" fill="#a9a9a9"/>
<line x1="482.25" y1="629.25" x2="482.25" y2="635.55" stroke="#333" stroke-width="1.1"/>
<line x1="479.95" y1="629.25" x2="484.55" y2="629.25" stroke="#333" stroke-width="1.1"/>
<line x1="479.95" y1="635.55" x2="484.55" y2="635.55" stroke="#333" stroke-width="1.1"/>
<text transform="translate(376.70,669.20) scale(1,1.07)" font-size="14" text-anchor="middle" fill="#111111">1:1</text>
<text transform="translate(473.40,669.20) scale(1,1.07)" font-size="14" text-anchor="middle" fill="#111111">10:1</text>
<text x="342.00" y="687.60" font-size="16" text-anchor="start" font-weight="bold" fill="#111111">CD4<tspan font-size="11" dy="-5.8">-</tspan><tspan dy="5.8"> iNKT : DC ratio</tspan></text>
<rect x="352.30" y="502.00" width="6.80" height="6.80" fill="#1f1f1f"/>
<text transform="translate(362.20,510.30) scale(1,1.04)" font-size="14.4" text-anchor="start" fill="#111111">Untreated</text>
<rect x="352.30" y="527.60" width="6.80" height="6.80" fill="#a9a9a9"/>
<text transform="translate(362.20,535.60) scale(1,1.04)" font-size="14.4" text-anchor="start" fill="#111111">EGTA</text>
<text x="0" y="0" font-size="16" font-weight="bold" text-anchor="middle" fill="#111111" transform="translate(289.01,574.00) rotate(-90) scale(1.02,1)">% specific lysis</text>
</svg></body></html>
